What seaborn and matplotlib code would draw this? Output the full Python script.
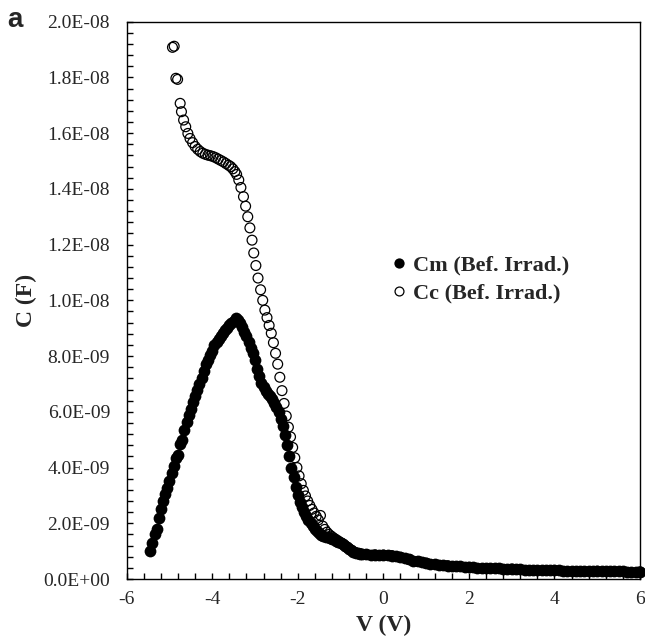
import numpy as np
import pandas as pd
import matplotlib
matplotlib.use("Agg")
import matplotlib.pyplot as plt
import seaborn as sns
from matplotlib.ticker import MultipleLocator, FuncFormatter
from matplotlib.lines import Line2D

# Measured capacitance before irradiation (values in nF)
v_cm = [-5.45, -5.40, -5.35, -5.30, -5.25, -5.20, -5.15, -5.10, -5.05, -5.00,
        -4.95, -4.90, -4.85, -4.80, -4.75, -4.70, -4.65, -4.60, -4.55, -4.50,
        -4.45, -4.40, -4.35, -4.30, -4.25, -4.20, -4.15, -4.10, -4.05, -4.00,
        -3.95, -3.90, -3.85, -3.80, -3.75, -3.70, -3.65, -3.60, -3.55, -3.50,
        -3.45, -3.40, -3.35, -3.30, -3.25, -3.20, -3.15, -3.10, -3.05, -3.00,
        -2.95, -2.90, -2.85, -2.80, -2.75, -2.70, -2.65, -2.60, -2.55, -2.50,
        -2.45, -2.40, -2.35, -2.30, -2.25, -2.20, -2.15, -2.10, -2.05, -2.00,
        -1.95, -1.90, -1.85, -1.80, -1.75, -1.70, -1.65, -1.60, -1.55, -1.50,
        -1.45, -1.40, -1.35, -1.30, -1.25, -1.20, -1.15, -1.10, -1.05, -1.00,
        -0.95, -0.90, -0.85, -0.80, -0.75, -0.70, -0.65, -0.60, -0.55, -0.50,
        -0.40, -0.30, -0.20, -0.10, 0.00, 0.10, 0.20, 0.30, 0.40, 0.50,
        0.60, 0.70, 0.80, 0.90, 1.00, 1.10, 1.20, 1.30, 1.40, 1.50,
        1.60, 1.70, 1.80, 1.90, 2.00, 2.10, 2.20, 2.30, 2.40, 2.50,
        2.60, 2.70, 2.80, 2.90, 3.00, 3.10, 3.20, 3.30, 3.40, 3.50,
        3.60, 3.70, 3.80, 3.90, 4.00, 4.10, 4.20, 4.30, 4.40, 4.50,
        4.60, 4.70, 4.80, 4.90, 5.00, 5.10, 5.20, 5.30, 5.40, 5.50,
        5.60, 5.70, 5.80, 5.90, 6.00]
c_cm = [1.00, 1.30, 1.62, 1.80, 2.20, 2.50, 2.80, 3.05, 3.25, 3.50,
        3.80, 4.05, 4.35, 4.45, 4.85, 5.00, 5.35, 5.65, 5.90, 6.10,
        6.35, 6.55, 6.80, 7.00, 7.20, 7.45, 7.70, 7.85, 8.05, 8.20,
        8.38, 8.50, 8.62, 8.72, 8.82, 8.92, 9.02, 9.10, 9.18, 9.27,
        9.35, 9.30, 9.20, 9.05, 8.88, 8.72, 8.50, 8.30, 8.10, 7.85,
        7.55, 7.30, 7.05, 6.88, 6.75, 6.65, 6.55, 6.45, 6.32, 6.18,
        6.00, 5.75, 5.50, 5.15, 4.80, 4.40, 4.00, 3.65, 3.30, 3.00,
        2.78, 2.58, 2.40, 2.25, 2.12, 2.00, 1.90, 1.80, 1.72, 1.65,
        1.58, 1.55, 1.52, 1.50, 1.48, 1.45, 1.42, 1.38, 1.34, 1.30,
        1.25, 1.20, 1.14, 1.08, 1.03, 0.98, 0.95, 0.92, 0.90, 0.89,
        0.88, 0.87, 0.87, 0.86, 0.86, 0.85, 0.84, 0.82, 0.78, 0.74,
        0.70, 0.66, 0.63, 0.60, 0.57, 0.55, 0.53, 0.51, 0.50, 0.48,
        0.47, 0.46, 0.45, 0.44, 0.42, 0.42, 0.41, 0.40, 0.40, 0.39,
        0.38, 0.38, 0.37, 0.37, 0.36, 0.35, 0.35, 0.34, 0.34, 0.33,
        0.33, 0.32, 0.32, 0.31, 0.31, 0.31, 0.30, 0.30, 0.30, 0.29,
        0.29, 0.29, 0.28, 0.28, 0.28, 0.28, 0.27, 0.27, 0.27, 0.27,
        0.27, 0.26, 0.26, 0.26, 0.26]

# Corrected capacitance before irradiation (values in nF)
v_cc = [-4.93, -4.89, -4.85, -4.81, -4.75, -4.72, -4.67, -4.62, -4.57, -4.52,
        -4.46, -4.40, -4.34, -4.28, -4.22, -4.16, -4.10, -4.04, -3.98, -3.92,
        -3.86, -3.80, -3.74, -3.68, -3.62, -3.57, -3.52, -3.47, -3.43, -3.38,
        -3.33, -3.27, -3.22, -3.17, -3.12, -3.07, -3.03, -2.98, -2.93, -2.87,
        -2.82, -2.77, -2.72, -2.67, -2.62, -2.57, -2.52, -2.47, -2.42, -2.37,
        -2.32, -2.27, -2.22, -2.17, -2.12, -2.07, -2.02, -1.97, -1.92, -1.87,
        -1.82, -1.77, -1.72, -1.67, -1.62, -1.57, -1.52, -1.47, -1.42, -1.37,
        -1.32, -1.27, -1.22, -1.17, -1.12, -1.07, -1.02, -0.97, -0.92, -0.87,
        -0.82, -0.77, -0.72, -0.67, -0.62, -0.57, -0.52, -0.40, -0.20, 0.00,
        0.20, 0.40, 0.60, 0.80, 1.00, 1.50, 2.00, 3.00, 4.00, 5.00, 6.00]
c_cc = [19.08, 19.12, 17.97, 17.93, 17.07, 16.77, 16.47, 16.23, 15.99, 15.81,
        15.66, 15.52, 15.42, 15.34, 15.28, 15.24, 15.21, 15.19, 15.16, 15.12,
        15.07, 15.02, 14.97, 14.91, 14.85, 14.80, 14.72, 14.62, 14.52, 14.32,
        14.05, 13.72, 13.38, 13.00, 12.60, 12.16, 11.70, 11.25, 10.80, 10.38,
        10.00, 9.65, 9.38, 9.10, 8.82, 8.48, 8.10, 7.71, 7.24, 6.76,
        6.30, 5.85, 5.45, 5.10, 4.72, 4.35, 4.00, 3.70, 3.42, 3.18,
        2.98, 2.80, 2.64, 2.50, 2.37, 2.25, 2.12, 2.28, 1.90, 1.78,
        1.68, 1.60, 1.54, 1.48, 1.43, 1.38, 1.33, 1.28, 1.22, 1.16,
        1.10, 1.05, 1.00, 0.96, 0.93, 0.91, 0.90, 0.88, 0.87, 0.86,
        0.84, 0.78, 0.70, 0.63, 0.57, 0.48, 0.42, 0.36, 0.31, 0.28, 0.26]

labels = ["Cm (Bef. Irrad.)", "Cc (Bef. Irrad.)"]

df_cm = pd.DataFrame({"V": v_cm, "C": np.array(c_cm) * 1e-9})
df_cc = pd.DataFrame({"V": v_cc, "C": np.array(c_cc) * 1e-9})

sns.set_style("ticks")
plt.rcParams["font.family"] = ["Liberation Serif", "DejaVu Serif"]

W, H = 645, 639
fig = plt.figure(figsize=(W / 100, H / 100), dpi=100)
ax = fig.add_axes([126.7 / W, 1 - 579 / H, 513.3 / W, 557.3 / H])

# open circles first, filled measured curve drawn over them
sns.scatterplot(data=df_cc, x="V", y="C", ax=ax, marker="o", s=50,
                facecolor="none", edgecolor="black", linewidth=0.9,
                zorder=2, clip_on=False, legend=False)
sns.scatterplot(data=df_cm, x="V", y="C", ax=ax, marker="o", s=72,
                color="black", edgecolor="black", linewidth=0,
                zorder=3, clip_on=False, legend=False)

ax.set_xlim(-6, 6)
ax.set_ylim(0, 2.0e-8)
ax.xaxis.set_major_locator(MultipleLocator(2))
ax.xaxis.set_minor_locator(MultipleLocator(0.4))
ax.yaxis.set_major_locator(MultipleLocator(2e-9))
ax.yaxis.set_minor_locator(MultipleLocator(4e-10))
ax.yaxis.set_major_formatter(FuncFormatter(lambda v, p: f"{v:.1E}"))
ax.xaxis.set_major_formatter(FuncFormatter(lambda v, p: f"{v:g}"))

ax.tick_params(which="both", direction="in", length=4, width=1,
               top=False, right=False, color="black")
ax.tick_params(axis="both", which="major", labelsize=14)
ax.tick_params(axis="y", which="major", pad=12)
ax.tick_params(axis="x", which="major", pad=9)

for side in ["top", "right", "bottom", "left"]:
    ax.spines[side].set_visible(True)
    ax.spines[side].set_linewidth(1.0)
    ax.spines[side].set_color("black")

ax.set_xlabel("V (V)", fontsize=17, fontweight="bold")
ax.set_ylabel("C (F)", fontsize=17, fontweight="bold")
ax.xaxis.set_label_coords(0.5, -0.065)
ax.yaxis.set_label_coords(-0.175, 0.5)

handles = [
    Line2D([], [], linestyle="none", marker="o", markersize=7.4,
           markerfacecolor="black", markeredgecolor="black", markeredgewidth=0),
    Line2D([], [], linestyle="none", marker="o", markersize=6.4,
           markerfacecolor="none", markeredgecolor="black", markeredgewidth=0.9),
]
ax.legend(handles, labels, loc="center left", bbox_to_anchor=(0.496, 0.538),
          frameon=False, borderpad=0, handlelength=0.6, handletextpad=0.33,
          labelspacing=0.35, prop={"weight": "bold", "size": 16})

fig.text(7 / W, 1 - 20 / H, "a", fontsize=20, fontweight="bold",
         family=["Liberation Sans", "DejaVu Sans"], ha="left", va="center")

fig.savefig("out.png", dpi=100)
